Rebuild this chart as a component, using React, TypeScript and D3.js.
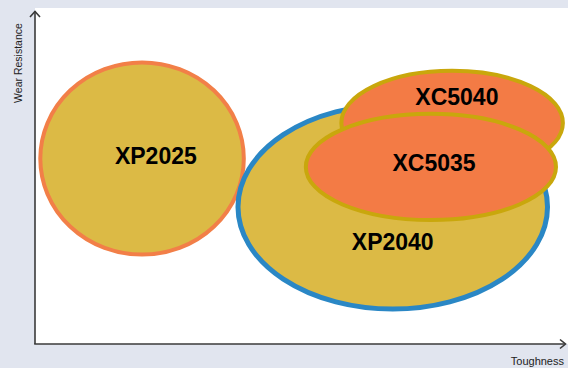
import React from "react";
import * as d3 from "d3";

// grades placed on a toughness / wear resistance map (0-100 arbitrary units)
const grades = ["XP2025", "XP2040", "XC5040", "XC5035"];
const centerToughness = [20.2, 67.5, 78.7, 74.7];
const centerWear = [55.2, 40.8, 65.8, 52.7];
const spreadToughness = [19.2, 29.2, 20.9, 23.6];
const spreadWear = [28.6, 30.4, 15.5, 15.8];
const labelToughness = [22.8, 67.5, 79.6, 75.3];
const labelWear = [56.0, 30.4, 73.5, 53.9];

const fills = ["#dcba45", "#dcba45", "#f37b45", "#f37b45"];
const strokes = ["#f27f48", "#2a87c5", "#c9a70c", "#c9a70c"];
const strokeWidths = [4, 5, 4, 4];

const W = 568;
const H = 368;

const App = () => {
  const x = d3.scaleLinear().domain([0, 100]).range([35, 565]);
  const y = d3.scaleLinear().domain([0, 100]).range([344, 8]);

  const rx = (v: number) => x(v) - x(0);
  const ry = (v: number) => y(0) - y(v);

  return (
    <svg
      width={W}
      height={H}
      style={{ position: "absolute", left: 0, top: 0 }}
    >
      <rect x={0} y={0} width={W} height={H} fill="#e1e5ef" />
      <rect x={35} y={8} width={W - 35} height={336} fill="#ffffff" />

      {grades.map((g, i) => (
        <ellipse
          key={g}
          cx={x(centerToughness[i])}
          cy={y(centerWear[i])}
          rx={rx(spreadToughness[i])}
          ry={ry(spreadWear[i])}
          fill={fills[i]}
          stroke={strokes[i]}
          strokeWidth={strokeWidths[i]}
        />
      ))}

      {grades.map((g, i) => (
        <text
          key={g + "-label"}
          x={x(labelToughness[i])}
          y={y(labelWear[i])}
          textAnchor="middle"
          dominantBaseline="central"
          fontFamily="Liberation Sans, Arial, sans-serif"
          fontWeight="bold"
          fontSize={23}
          fill="#000"
        >
          {g}
        </text>
      ))}

      {/* axes */}
      <g stroke="#3a3a3a" fill="none" strokeWidth={1.6}>
        <line x1={35} y1={11} x2={35} y2={344} />
        <line x1={34.2} y1={344} x2={565} y2={344} />
        <polyline points="30,17 35,11.5 40,17" />
        <polyline points="560,339.5 565.5,344 560,348.5" />
      </g>

      <text
        x={0}
        y={0}
        transform="translate(22,63) rotate(-90)"
        textAnchor="middle"
        fontFamily="Liberation Sans, Arial, sans-serif"
        fontSize={10.5}
        fill="#222"
      >
        Wear Resistance
      </text>
      <text
        x={564}
        y={365}
        textAnchor="end"
        fontFamily="Liberation Sans, Arial, sans-serif"
        fontSize={11}
        fill="#222"
      >
        Toughness
      </text>
    </svg>
  );
};

export default App;
